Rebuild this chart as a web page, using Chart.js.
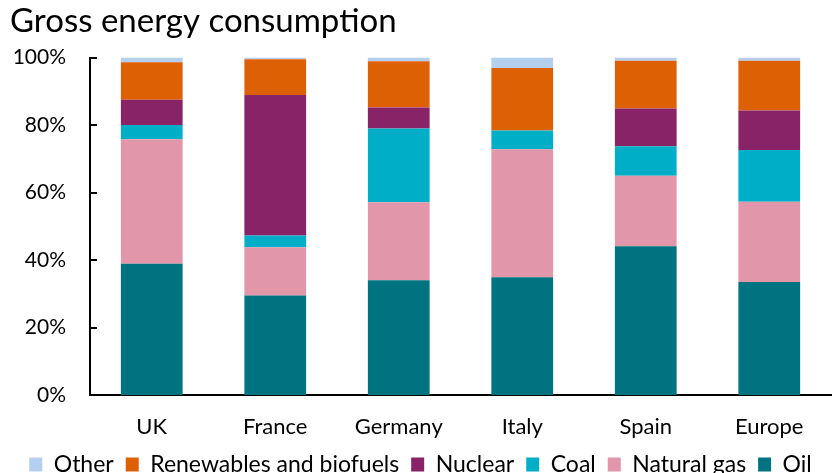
<!DOCTYPE html>
<html>
<head>
<meta charset="utf-8">
<script src="https://cdn.jsdelivr.net/npm/chart.js@4"></script>
<style>
  html, body { margin: 0; padding: 0; background: #fff; }
  #wrap { width: 837px; height: 473px; position: relative; }
</style>
</head>
<body>
<div id="wrap"><canvas id="c"></canvas></div>
<script>
const categories = ['UK', 'France', 'Germany', 'Italy', 'Spain', 'Europe'];
const oil        = [38.9, 29.5, 34.0, 34.9, 44.1, 33.5];
const naturalGas = [36.9, 14.3, 23.1, 37.9, 20.9, 23.8];
const coal       = [4.2, 3.5, 21.9, 5.6, 8.7, 15.3];
const nuclear    = [7.5, 41.6, 6.2, 0, 11.2, 11.7];
const renewables = [11.1, 10.6, 13.7, 18.5, 14.2, 14.8];
const other      = [1.4, 0.5, 1.1, 3.1, 0.9, 0.9];
const yTicks = [0, 20, 40, 60, 80, 100];

const FONT = 'Lato, "Open Sans", sans-serif';

const series = [
  { label: 'Oil', data: oil, color: '#007380' },
  { label: 'Natural gas', data: naturalGas, color: '#E196AA' },
  { label: 'Coal', data: coal, color: '#00AFC7' },
  { label: 'Nuclear', data: nuclear, color: '#872366' },
  { label: 'Renewables and biofuels', data: renewables, color: '#DE6004' },
  { label: 'Other', data: other, color: '#B5CFEE' }
];

const innerTicks = {
  id: 'innerTicks',
  afterDraw(chart) {
    const y = chart.scales.y;
    const ctx = chart.ctx;
    ctx.save();
    ctx.strokeStyle = '#000';
    ctx.lineWidth = 2;
    yTicks.forEach(v => {
      const py = Math.round(y.getPixelForValue(v));
      ctx.beginPath();
      ctx.moveTo(chart.chartArea.left - 1, py);
      ctx.lineTo(chart.chartArea.left + 7, py);
      ctx.stroke();
    });
    ctx.restore();
  }
};

new Chart(document.getElementById('c'), {
  type: 'bar',
  data: {
    labels: categories,
    datasets: series.map(s => ({
      label: s.label,
      data: s.data,
      backgroundColor: s.color,
      borderWidth: 0,
      categoryPercentage: 1.0,
      barPercentage: 0.5
    }))
  },
  options: {
    responsive: true,
    maintainAspectRatio: false,
    animation: false,
    devicePixelRatio: 1,
    layout: { padding: { left: 10, right: 6, top: 0, bottom: -13 } },
    plugins: {
      title: {
        display: true,
        text: 'Gross energy consumption',
        align: 'start',
        color: '#000',
        font: { family: FONT, size: 33, weight: 'normal' },
        padding: { top: 2, bottom: 16 }
      },
      legend: {
        position: 'bottom',
        reverse: true,
        labels: {
          color: '#000',
          font: { family: FONT, size: 23 },
          boxWidth: 13,
          boxHeight: 14,
          padding: 12
        }
      },
      tooltip: { enabled: false }
    },
    scales: {
      x: {
        stacked: true,
        grid: { display: false, drawTicks: false },
        border: { display: true, color: '#000', width: 2 },
        ticks: { color: '#000', font: { family: FONT, size: 22 }, padding: 19 },
        afterFit(s) { s.height = 46; }
      },
      y: {
        stacked: true,
        min: 0,
        max: 100,
        grid: { display: false, drawTicks: false },
        border: { display: true, color: '#000', width: 2 },
        ticks: {
          stepSize: 20,
          color: '#000',
          font: { family: FONT, size: 21 },
          padding: 24,
          callback: v => v + '%'
        },
        afterFit(s) { s.width = 80; }
      }
    }
  },
  plugins: [innerTicks]
});
</script>
</body>
</html>
